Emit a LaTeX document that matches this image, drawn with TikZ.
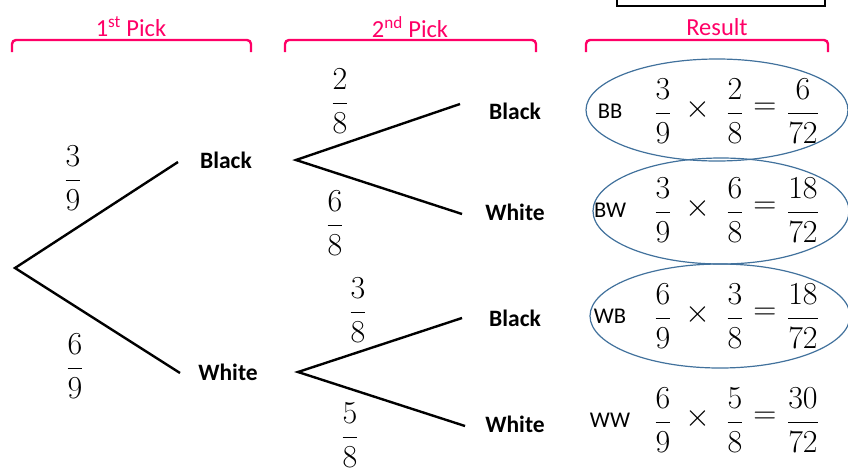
\RequirePackage{fix-cm}
\documentclass[tikz,border=0pt]{standalone}
\usepackage{amsmath}
\usepackage{fontspec}
\setmainfont{Carlito}
\definecolor{pinkc}{HTML}{FF0066}
\definecolor{ellc}{HTML}{41719C}
\begin{document}
\begin{tikzpicture}[x=1pt,y=-1pt,
  branch/.style={line width=2.4pt,black},
  brace/.style={line width=2.4pt,pinkc,rounded corners=4pt},
  head/.style={font=\fontsize{24.5}{28}\selectfont,text=pinkc,inner sep=0pt},
  lbl/.style={font=\fontsize{23.5}{27}\selectfont\bfseries,inner sep=0pt},
  fr/.style={font=\fontsize{32}{38}\selectfont,inner sep=0pt},
  res/.style={font=\fontsize{22.5}{26}\selectfont,inner sep=0pt},
  ell/.style={draw=ellc,line width=1.2pt}]
\useasboundingbox (0,0) rectangle (848,469);
% top box
\draw[line width=1.4pt] (617,-5) rectangle (825,6);
% headings and braces
\node[head] (h1) at (131,27) {1\textsuperscript{st} Pick};
\node[head] (h2) at (410,27) {2\textsuperscript{nd} Pick};
\node[head] (h3) at (717,27) {Result};
\draw[brace] (12,52) -- (12,40) -- (251,40) -- (251,52);
\draw[brace] (285,52) -- (285,40) -- (536,40) -- (536,52);
\draw[brace] (586,52) -- (586,40) -- (828,40) -- (828,52);
% tree
\coordinate (root) at (15,268);
\coordinate (b1) at (178,162);
\coordinate (w1) at (180,373);
\coordinate (b1s) at (296,160);
\coordinate (w1s) at (298,372);
\coordinate (bb) at (460,104);
\coordinate (bw) at (462,214);
\coordinate (wb) at (462,318);
\coordinate (ww) at (465,426);
\draw[branch] (b1) -- (root) -- (w1);
\draw[branch] (bb) -- (b1s) -- (bw);
\draw[branch] (wb) -- (w1s) -- (ww);
\node[lbl] (lb1) at (226,160) {Black};
\node[lbl] (lw1) at (228,372) {White};
\node[lbl] (lbb) at (515,111) {Black};
\node[lbl] (lbw) at (515,212) {White};
\node[lbl] (lwb) at (515,318) {Black};
\node[lbl] (lww) at (515,424) {White};
% branch probabilities
\node[fr] (p1) at (73,178) {$\dfrac{3}{9}$};
\node[fr] (p2) at (75,366) {$\dfrac{6}{9}$};
\node[fr] (p3) at (340,101) {$\dfrac{2}{8}$};
\node[fr] (p4) at (335,223) {$\dfrac{6}{8}$};
\node[fr] (p5) at (358,310) {$\dfrac{3}{8}$};
\node[fr] (p6) at (350,435) {$\dfrac{5}{8}$};
% results
\foreach \y/\a/\b/\c/\d/\r in {111/3/2/6/BB/r1,210/3/6/18/BW/r2,316/6/3/18/WB/r3,420/6/5/30/WW/r4}{
  \node[res] (\r l) at (610,\y) {\d};
  \node[fr] (\r a) at (663,\y) {$\dfrac{\a}{9}$};
  \node[fr] (\r x) at (698,\y-2) {$\times$};
  \node[fr] (\r b) at (735,\y) {$\dfrac{\b}{8}$};
  \node[fr] (\r e) at (765,\y-2) {$=$};
  \node[fr] (\r c) at (803,\y) {$\dfrac{\c}{72}$};
}
% ellipses
\draw[ell] (717,110) ellipse [x radius=131,y radius=51];
\draw[ell] (721,211) ellipse [x radius=128,y radius=53];
\draw[ell] (720,316) ellipse [x radius=130,y radius=52];
\end{tikzpicture}
\end{document}
